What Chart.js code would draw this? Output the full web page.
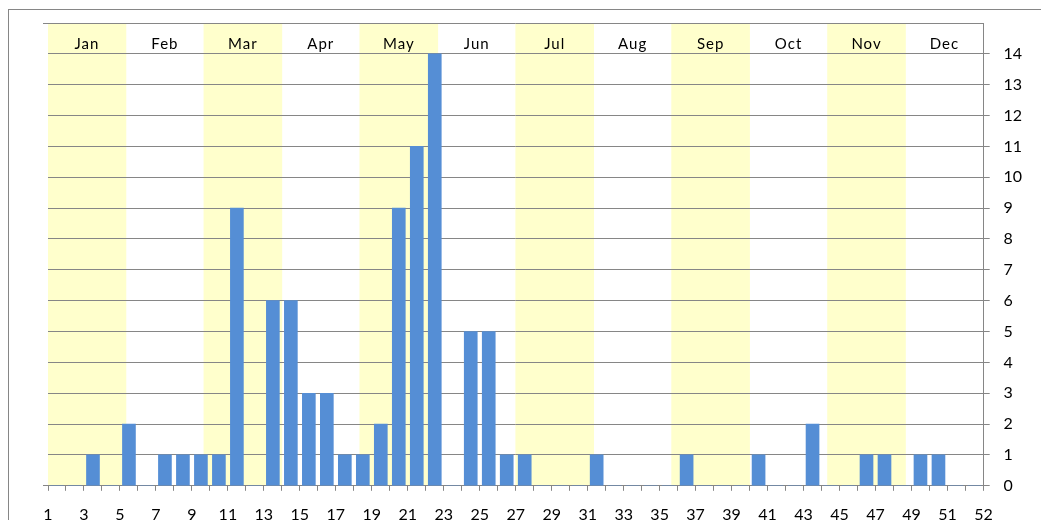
<!DOCTYPE html>
<html>
<head>
<meta charset="utf-8">
<script src="https://cdn.jsdelivr.net/npm/chart.js@4.4.1/dist/chart.umd.min.js"></script>
<style>
  html, body { margin: 0; padding: 0; background: #fff; }
  #wrap { width: 1041px; height: 520px; position: relative; }
</style>
</head>
<body>
<div id="wrap"><canvas id="chart"></canvas></div>
<script>
// weekly counts
const weeks = [1, 2, 3, 4, 5, 6, 7, 8, 9, 10, 11, 12, 13, 14, 15, 16, 17, 18, 19, 20, 21, 22, 23, 24, 25, 26,
               27, 28, 29, 30, 31, 32, 33, 34, 35, 36, 37, 38, 39, 40, 41, 42, 43, 44, 45, 46, 47, 48, 49, 50, 51, 52];
const counts = [0, 0, 1, 0, 2, 0, 1, 1, 1, 1, 9, 0, 6, 6, 3, 3, 1, 1, 2, 9, 11, 14, 0, 5, 5, 1,
                1, 0, 0, 0, 1, 0, 0, 0, 0, 1, 0, 0, 0, 1, 0, 0, 2, 0, 0, 1, 1, 0, 1, 1, 0, 0];
const months = ["Jan", "Feb", "Mar", "Apr", "May", "Jun", "Jul", "Aug", "Sep", "Oct", "Nov", "Dec"];
const weekTicks = ["1", "", "3", "", "5", "", "7", "", "9", "", "11", "", "13", "", "15", "", "17", "", "19", "",
                   "21", "", "23", "", "25", "", "27", "", "29", "", "31", "", "33", "", "35", "", "37", "", "39", "",
                   "41", "", "43", "", "45", "", "47", "", "49", "", "51", "", "52"];
const yTicks = ["0", "1", "2", "3", "4", "5", "6", "7", "8", "9", "10", "11", "12", "13", "14", ""];

const gray = "#868686";

// outer chart frame
const frame = {
    id: "frame",
    beforeDraw(chart) {
        const ctx = chart.ctx;
        ctx.save();
        ctx.strokeStyle = gray;
        ctx.lineWidth = 1;
        ctx.strokeRect(8.5, 9.5, 1200, 700);
        ctx.restore();
    }
};

// gridlines sit on top of the month shading but under the bars
const gridOverBands = {
    id: "gridOverBands",
    afterDatasetDraw(chart, args) {
        if (args.index === 0) chart.scales.y.drawGrid(chart.chartArea);
    }
};

const monthLabels = {
    id: "monthLabels",
    afterDatasetsDraw(chart) {
        const ctx = chart.ctx;
        const y = chart.scales.y.getPixelForValue(14.3);
        ctx.save();
        ctx.font = "15px Lato";
        ctx.letterSpacing = "1px";
        ctx.fillStyle = "#000";
        ctx.textAlign = "center";
        ctx.textBaseline = "middle";
        months.forEach((m, i) => ctx.fillText(m, chart.scales.xm.getPixelForValue(i), y));
        ctx.restore();
    }
};

let ctx = document.getElementById("chart").getContext("2d");

let chart = new Chart(ctx, {
    type: "bar",
    data: {
        labels: months,
        datasets: [
            {
                label: "months",
                xAxisID: "xm",
                yAxisID: "y",
                data: months.map((m, i) => i % 2 === 0 ? 15 : null),
                backgroundColor: "#FFFFCC",
                barPercentage: 1,
                categoryPercentage: 1,
                grouped: false,
                order: 2
            },
            {
                label: "weeks",
                xAxisID: "x",
                yAxisID: "y",
                data: weeks.map((w, i) => ({ x: w - 0.5, y: counts[i] })),
                backgroundColor: "#558ED5",
                barThickness: 13,
                grouped: false,
                order: 1
            }
        ]
    },
    options: {
        responsive: true,
        maintainAspectRatio: false,
        animation: false,
        layout: { padding: { left: 43, top: 23, right: 5, bottom: -18 } },
        plugins: {
            legend: { display: false },
            tooltip: { enabled: false }
        },
        scales: {
            xm: {
                type: "category",
                display: false,
                offset: true
            },
            x: {
                type: "linear",
                position: "bottom",
                min: 0,
                max: 52,
                offset: false,
                grid: { drawOnChartArea: false, offset: false, tickLength: 5, color: gray },
                border: { display: true, color: gray },
                ticks: {
                    stepSize: 1,
                    autoSkip: false,
                    maxRotation: 0,
                    padding: 14,
                    color: "#000",
                    font: { family: "Lato", size: 16 },
                    callback: (v) => weekTicks[Math.round(v)]
                }
            },
            y: {
                type: "linear",
                position: "right",
                min: 0,
                max: 15,
                grid: {
                    color: gray,
                    tickLength: 6,
                    tickColor: (c) => c.tick && c.tick.value === 15 ? "rgba(0,0,0,0)" : gray
                },
                border: { display: true, color: gray },
                ticks: {
                    stepSize: 1,
                    padding: 14,
                    color: "#000",
                    font: { family: "Lato", size: 16, lineHeight: 1 },
                    callback: (v) => yTicks[v]
                }
            },
            yl: {
                type: "linear",
                position: "left",
                min: 0,
                max: 15,
                grid: { drawOnChartArea: false, tickLength: 5, color: gray },
                border: { display: true, color: gray },
                ticks: { display: false, stepSize: 15 }
            }
        }
    },
    plugins: [frame, gridOverBands, monthLabels]
});
</script>
</body>
</html>
